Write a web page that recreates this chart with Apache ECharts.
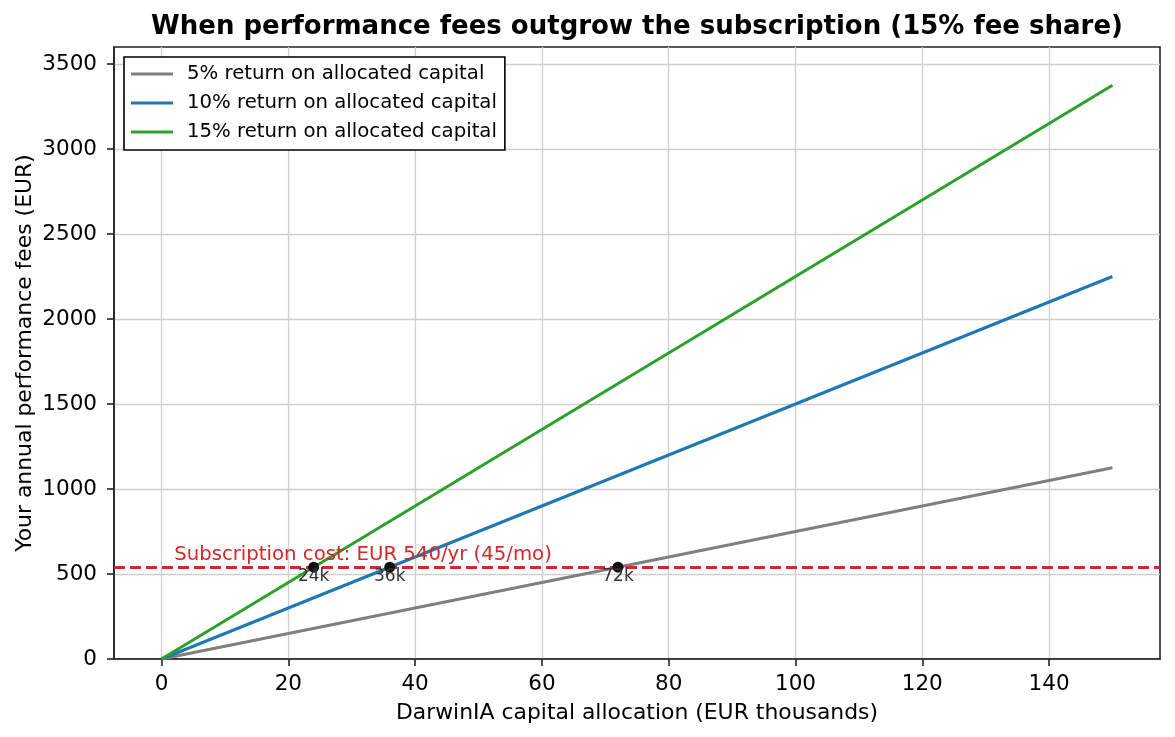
<!DOCTYPE html>
<html>
<head>
	<meta charset="utf-8">
	<title>Performance fees vs subscription</title>
	<script src="https://cdn.jsdelivr.net/npm/echarts@6/dist/echarts.min.js"></script>
	<style>
		html, body { margin: 0; padding: 0; background: #fff; }
	</style>
</head>
<body>
	<div id="main" style="width: 1175px;height:737px;"></div>

	<script>
		// data
		var capital = [0, 150];                 // EUR thousands
		var fees5 = [0, 1125];
		var fees10 = [0, 2250];
		var fees15 = [0, 3375];
		var subscriptionCost = 540;
		var breakEven = [24, 36, 72];
		var breakEvenLabels = ['24k', '36k', '72k'];
		var xTicks = [0, 20, 40, 60, 80, 100, 120, 140];
		var yTicks = [0, 500, 1000, 1500, 2000, 2500, 3000, 3500];
		var seriesNames = ['5% return on allocated capital', '10% return on allocated capital', '15% return on allocated capital'];
		var colors = ['#7f7f7f', '#1f77b4', '#2ca02c'];

		var font = 'DejaVu Sans';

		function pairs(xs, ys) {
			return xs.map(function (x, i) { return [x, ys[i]]; });
		}

		var lineSeries = [fees5, fees10, fees15].map(function (vals, i) {
			return {
				name: seriesNames[i],
				type: 'line',
				data: pairs(capital, vals),
				showSymbol: false,
				symbol: 'none',
				lineStyle: { color: colors[i], width: 3 },
				itemStyle: { color: colors[i] },
				z: 3
			};
		});

		var myChart = echarts.init(document.getElementById('main'));

		myChart.setOption({
			animation: false,
			textStyle: { fontFamily: font },
			title: {
				text: 'When performance fees outgrow the subscription (15% fee share)',
				left: 637,
				textAlign: 'center',
				top: 13,
				padding: 0,
				textStyle: { fontFamily: font, fontWeight: 'bold', fontSize: 26, color: '#000', lineHeight: 28 }
			},
			legend: {
				orient: 'vertical',
				left: 124,
				top: 57,
				padding: [7, 8, 8, 7],
				itemGap: 9,
				itemWidth: 42,
				itemHeight: 3,
				icon: 'rect',
				backgroundColor: '#fff',
				borderColor: '#000',
				borderWidth: 1.6,
				borderRadius: 0,
				data: seriesNames,
				textStyle: { fontFamily: font, fontSize: 19.7, color: '#000', lineHeight: 20, padding: [0, 0, 0, 9] }
			},
			grid: {
				left: 114,
				right: 15,
				top: 47,
				bottom: 78,
				show: true,
				borderColor: '#222',
				borderWidth: 1.6,
				containLabel: false,
				outerBoundsMode: 'none'
			},
			xAxis: {
				type: 'value',
				min: -7.5,
				max: 157.5,
				name: 'DarwinIA capital allocation (EUR thousands)',
				nameLocation: 'middle',
				nameGap: 43,
				nameMoveOverlap: false,
				nameTextStyle: { fontFamily: font, fontSize: 21.9, color: '#000' },
				axisLine: { show: true, onZero: false, lineStyle: { color: '#222', width: 1.6 } },
				axisTick: { show: true, inside: false, length: 7, customValues: xTicks, lineStyle: { color: '#222', width: 1.6 } },
				axisLabel: { customValues: xTicks, margin: 14, fontFamily: font, fontSize: 21.5, color: '#000' },
				splitLine: { show: true, lineStyle: { color: '#cfcfcf', width: 1.3 } }
			},
			yAxis: {
				type: 'value',
				min: 0,
				max: 3600,
				name: 'Your annual performance fees (EUR)',
				nameLocation: 'middle',
				nameGap: 78,
				nameMoveOverlap: false,
				nameTextStyle: { fontFamily: font, fontSize: 21.9, color: '#000' },
				axisLine: { show: true, onZero: false, lineStyle: { color: '#222', width: 1.6 } },
				axisTick: { show: true, inside: false, length: 7, customValues: yTicks, lineStyle: { color: '#222', width: 1.6 } },
				axisLabel: {
					customValues: yTicks,
					margin: 17,
					fontFamily: font,
					fontSize: 21.5,
					color: '#000',
					formatter: function (v) { return String(v); }
				},
				splitLine: { show: true, lineStyle: { color: '#cfcfcf', width: 1.3 } }
			},
			series: lineSeries.concat([
				{
					name: 'break-even',
					type: 'scatter',
					data: breakEven.map(function (x, i) {
						return { value: [x, subscriptionCost], label: { formatter: breakEvenLabels[i] } };
					}),
					symbolSize: 11,
					itemStyle: { color: '#111', opacity: 1 },
					label: {
						show: true,
						position: 'inside',
						offset: [0, 9],
						fontFamily: font,
						fontSize: 17,
						color: '#333'
					},
					markLine: {
						silent: true,
						symbol: 'none',
						label: { show: false },
						lineStyle: { color: '#d62728', type: [11, 5], width: 2.8, opacity: 1 },
						data: [{ yAxis: subscriptionCost }]
					},
					z: 5
				},
				{
					name: 'subscription-label',
					type: 'scatter',
					silent: true,
					data: [[2, subscriptionCost]],
					symbolSize: 0,
					itemStyle: { opacity: 1 },
					label: {
						show: true,
						position: 'right',
						distance: 0,
						offset: [0, -12],
						formatter: 'Subscription cost: EUR ' + subscriptionCost + '/yr (45/mo)',
						fontFamily: font,
						fontSize: 19.7,
						color: '#d62728'
					},
					z: 4
				}
			])
		});
	</script>
</body>
</html>
